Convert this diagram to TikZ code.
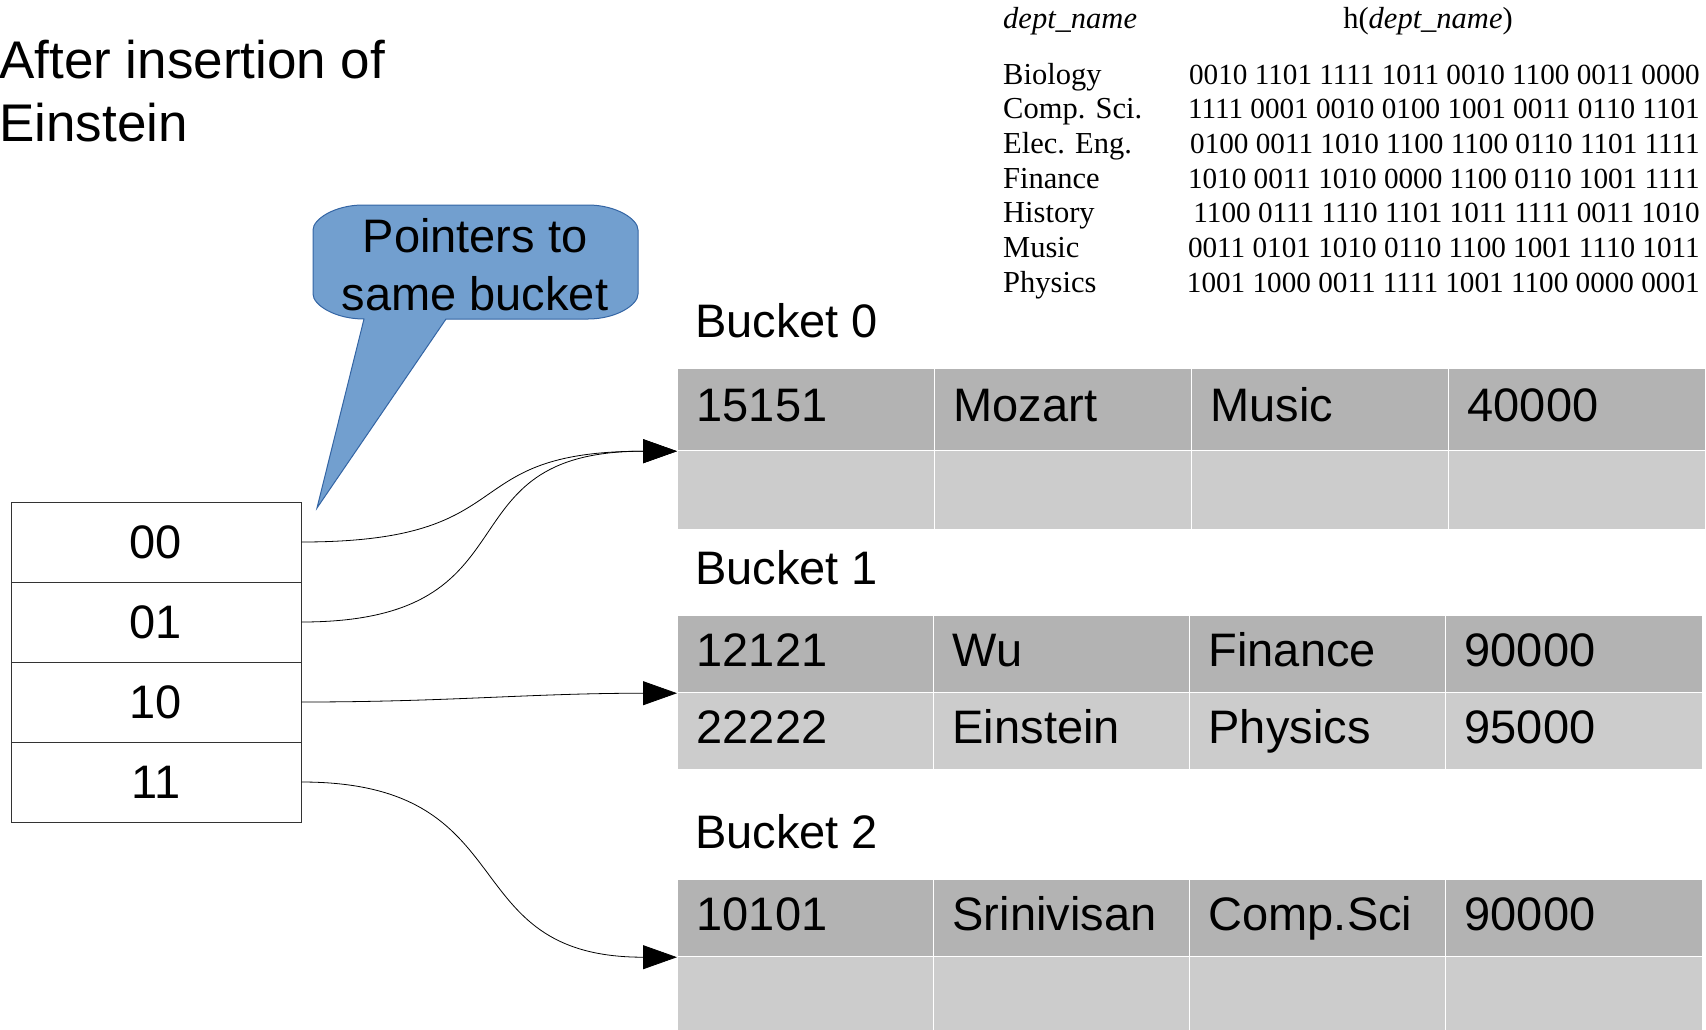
\documentclass[tikz,border=0pt]{standalone}
\usepackage{fontspec}
\setmainfont{Liberation Sans}
\newfontfamily\hashfont{Liberation Serif}
\usetikzlibrary{arrows.meta, positioning, calc}
\definecolor{calloutblue}{HTML}{729FCF}
\definecolor{calloutline}{HTML}{3465A4}
\definecolor{rowdark}{HTML}{B3B3B3}
\definecolor{rowlight}{HTML}{CCCCCC}
\newcommand{\bigfont}{\fontsize{47}{58}\selectfont}
\newcommand{\titlefont}{\fontsize{53}{63}\selectfont}
\newcommand{\hfnt}{\hashfont\fontsize{29.2}{34}\selectfont}
\newcommand{\hnfnt}{\hashfont\fontsize{30.5}{34}\selectfont}

\begin{document}
\begin{tikzpicture}[x=1pt, y=-1pt,
    cell/.style={rectangle, draw=white, line width=1.2pt, anchor=north west, text width=219pt, inner xsep=19pt, inner ysep=0pt, text height=30pt, text depth=7pt, align=left, font=\bigfont},
    dirbox/.style={rectangle, draw=black!80, line width=1pt, minimum width=290pt, minimum height=80pt, font=\bigfont},
    bucketlab/.style={anchor=base west, inner sep=0pt, font=\bigfont},
    hashname/.style={anchor=base west, inner sep=0pt, font=\hnfnt},
    hashval/.style={anchor=base east, inner sep=0pt, font=\hfnt},
    arrow/.style={-{Triangle[length=34pt, width=24pt]}, line width=0.8pt}
]
    \useasboundingbox (0,0) rectangle (1706,1029);

    % title
    \node[anchor=base west, inner sep=0pt, font=\titlefont] (title1) at (-1,78) {After insertion of};
    \node[anchor=base west, inner sep=0pt, font=\titlefont] (title2) at (-1,141) {Einstein};

    % hash function table
    \node[hashname] (hhead) at (1003,28) {\itshape dept\_name};
    \node[anchor=base, inner sep=0pt, font=\hnfnt] (hval) at (1428,28) {h(\textit{dept\_name})};
    \foreach \nm/\hv [count=\i from 0] in {
        Biology/0010 1101 1111 1011 0010 1100 0011 0000,
        Comp. Sci./1111 0001 0010 0100 1001 0011 0110 1101,
        Elec. Eng./0100 0011 1010 1100 1100 0110 1101 1111,
        Finance/1010 0011 1010 0000 1100 0110 1001 1111,
        History/1100 0111 1110 1101 1011 1111 0011 1010,
        Music/0011 0101 1010 0110 1100 1001 1110 1011,
        Physics/1001 1000 0011 1111 1001 1100 0000 0001} {
        \node[hashname] (hn\i) at (1003,{84+34.7*\i}) {\nm};
        \node[hashval] (hv\i) at (1700,{84+34.7*\i}) {\hv};
    }

    % callout
    \draw[fill=calloutblue, draw=calloutline, line width=1pt]
        (313,230) .. controls (313,219) and (335,205) .. (363,205) -- (588,205)
        .. controls (616,205) and (638,219) .. (638,230) -- (638,294)
        .. controls (638,305) and (616,319) .. (588,319) -- (446,319) -- (317,508) -- (364,319)
        .. controls (335,319) and (313,305) .. (313,294) -- cycle;
    \node[align=center, inner sep=0pt, font=\bigfont] (callout) at (475,265) {Pointers to\\same bucket};

    % directory
    \foreach \k/\y in {00/542, 01/622, 10/702, 11/782}
        \node[dirbox] (d\k) at (156,\y) {\k};

    % bucket 0
    \node[bucketlab] (lab0) at (695,337) {Bucket 0};
    \foreach \txt [count=\c from 0] in {15151, Mozart, Music, 40000}
        \node[cell, fill=rowdark, minimum height=82pt] (b0r1c\c) at ({677+257*\c},368) {\txt};
    \foreach \c in {0,...,3}
        \node[cell, fill=rowlight, minimum height=79pt] (b0r2c\c) at ({677+257*\c},450) {};

    % bucket 1
    \node[bucketlab] (lab1) at (695,584) {Bucket 1};
    \foreach \txt [count=\c from 0] in {12121, Wu, Finance, 90000}
        \node[cell, fill=rowdark, minimum height=77pt, text depth=5pt] (b1r1c\c) at ({677+256*\c},615) {\txt};
    \foreach \txt [count=\c from 0] in {22222, Einstein, Physics, 95000}
        \node[cell, fill=rowlight, minimum height=77pt, text depth=5pt] (b1r2c\c) at ({677+256*\c},692) {\txt};

    % bucket 2
    \node[bucketlab] (lab2) at (695,848) {Bucket 2};
    \foreach \txt [count=\c from 0] in {10101, Srinivisan, Comp.Sci, 90000}
        \node[cell, fill=rowdark, minimum height=77pt, text depth=5pt] (b2r1c\c) at ({677+256*\c},879) {\txt};
    \foreach \c in {0,...,3}
        \node[cell, fill=rowlight, minimum height=77pt] (b2r2c\c) at ({677+256*\c},956) {};

    % pointers
    \draw[arrow] (d00.east) to[out=0, in=180, looseness=1.5] (b0r1c0.south west);
    \draw[arrow] (d01.east) to[out=0, in=180, looseness=1.5] (b0r1c0.south west);
    \draw[arrow] (d10.east) to[out=0, in=180] (b1r1c0.south west);
    \draw[arrow] (d11.east) to[out=0, in=180, looseness=1.4] (b2r1c0.south west);
\end{tikzpicture}
\end{document}
